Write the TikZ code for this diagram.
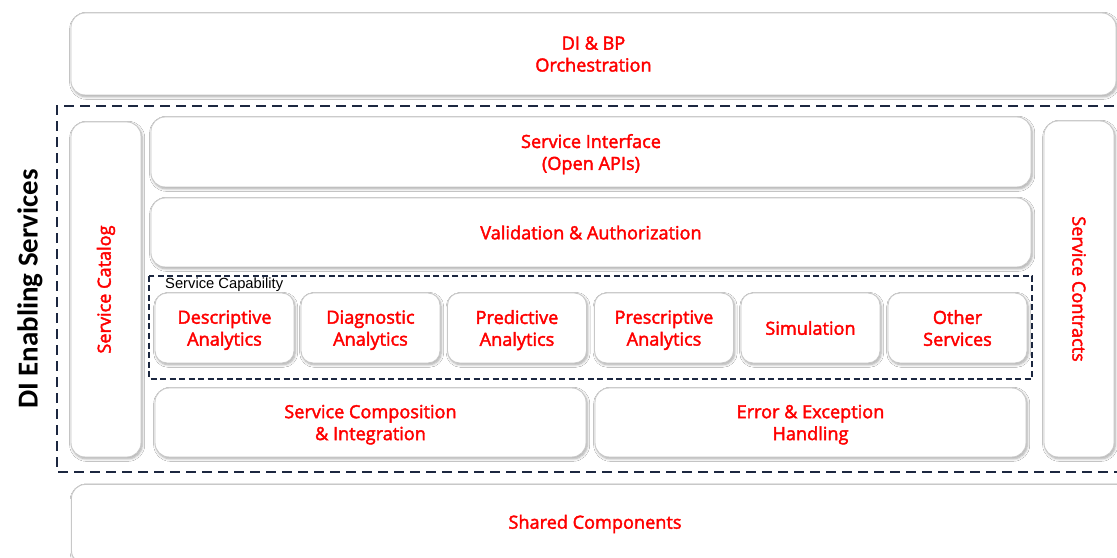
\documentclass[tikz,border=0pt]{standalone}
\usepackage{fontspec}
\setmainfont{Open Sans}
\newfontfamily\boxfont{Open Sans}[FakeBold=2.2]
\newfontfamily\labelfont{Liberation Sans}
\newfontfamily\titlefont{Carlito}
\usetikzlibrary{shadows.blur}
\definecolor{boxline}{HTML}{C8C8C8}
\definecolor{dashline}{HTML}{1C2740}
\definecolor{txtred}{HTML}{FF0000}
\newcommand{\boxtext}{\boxfont\fontsize{18.2}{22}\selectfont}
\tikzset{
  x=1bp, y=-1bp,
  block/.style={draw=boxline, line width=0.9bp, fill=white, rounded corners=14bp,
    blur shadow={shadow xshift=1.2bp, shadow yshift=-1.8bp, shadow blur steps=6,
      shadow blur radius=2.5bp, shadow opacity=35},
    text=txtred, align=center, font=\boxtext, inner sep=0pt},
  twoline/.style={text depth=0pt},
  redtext/.style={text=txtred, font=\boxtext, inner sep=0pt},
  capblock/.style={block, rounded corners=12bp, minimum width=139bp, minimum height=70bp},
  outerzone/.style={draw=dashline, line width=1.5bp, dash pattern=on 10bp off 6bp},
  innerzone/.style={draw=dashline, line width=1.1bp, dash pattern=on 6bp off 3.5bp},
}
\begin{document}
\begin{tikzpicture}
\useasboundingbox (0,0) rectangle (1117,558);
\fill[white] (0,0) rectangle (1117,558);

% enclosing zones
\draw[outerzone] (1130,106) -- (57,106) -- (57,472) -- (1130,472);
\draw[innerzone] (149,276) rectangle (1032,379);

% orchestration and shared layers
\node[block, twoline, minimum width=1045bp, minimum height=82bp] (orch) at (593.5,54) {DI \& BP\\Orchestration};
\node[block, minimum width=1060bp, minimum height=80bp, anchor=north west] (shared) at (71,484) {};
\node[redtext] (sharedtxt) at (595,524) {Shared Components};

% side columns
\node[block, minimum width=70bp, minimum height=335bp] (catalog) at (106,289.5) {};
\node[redtext, rotate=90] (catalogtxt) at (catalog.center) {Service Catalog};
\node[block, minimum width=70bp, minimum height=336bp] (contracts) at (1079,289) {};
\node[redtext, rotate=-90] (contractstxt) at (contracts.center) {Service Contracts};

% central stack
\node[block, twoline, minimum width=880bp, minimum height=70bp] (iface) at (591,152) {Service Interface\\(Open APIs)};
\node[block, minimum width=880bp, minimum height=69bp] (valid) at (591,232.5) {Validation \& Authorization};

\node[anchor=west, inner sep=0pt, font=\labelfont\fontsize{14.8}{16}\selectfont] (caplabel) at (165,285) {Service Capability};
\node[capblock, twoline] (descr) at (224.5,328) {Descriptive\\Analytics};
\node[capblock, twoline] (diagn) at (370.5,328) {Diagnostic\\Analytics};
\node[capblock, twoline] (pred) at (517,328) {Predictive\\Analytics};
\node[capblock, twoline] (presc) at (664,328) {Prescriptive\\Analytics};
\node[capblock] (simul) at (810.5,328) {Simulation};
\node[capblock, twoline] (other) at (957.5,328) {Other\\Services};

\node[block, twoline, minimum width=431bp, minimum height=69bp] (compose) at (370.5,422.5) {Service Composition\\\& Integration};
\node[block, twoline, minimum width=431bp, minimum height=69bp] (errors) at (810.5,422.5) {Error \& Exception\\Handling};

% layer title
\node[rotate=90, font=\titlefont\bfseries\fontsize{29}{32}\selectfont] (title) at (30,289) {DI Enabling Services};
\end{tikzpicture}
\end{document}
